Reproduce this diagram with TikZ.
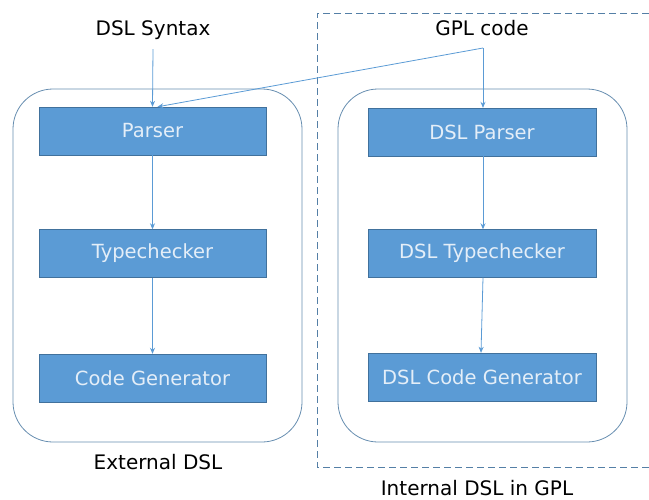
\documentclass[tikz,border=0pt]{standalone}
\usepackage{fontspec}
\setmainfont{DejaVu Sans}
\usetikzlibrary{arrows.meta,positioning}
\definecolor{boxblue}{HTML}{5B9BD5}
\definecolor{edgeblue}{HTML}{41719C}
\definecolor{txtblue}{HTML}{E4EEF8}

\tikzset{
  stage/.style={draw=edgeblue, fill=boxblue, text=txtblue, minimum width=227pt,
    minimum height=48pt, inner sep=0pt, font=\fontsize{19.5}{21}\selectfont},
  label/.style={font=\fontsize{20}{22}\selectfont, text=black},
  flow/.style={boxblue, line width=0.8pt, -{Stealth[length=6pt,width=5pt]}},
  frame/.style={edgeblue!80, line width=0.8pt, rounded corners=40pt}
}

\begin{document}
\begin{tikzpicture}[x=1pt, y=-1pt]
\useasboundingbox (0,0) rectangle (649,499);
% outer frames
\draw [frame] (13,89) rectangle (302,442);
\draw [frame] (338,89) rectangle (627,442);
\draw [edgeblue!90, line width=0.9pt, dash pattern=on 7pt off 4pt] (649,13) -- (317,13) -- (317,467) -- (649,467);
% external DSL
\node [stage] (parser) at (152.5,131) {Parser};
\node [stage] (typecheck) at (152.5,253.5) {Typechecker};
\node [stage] (codegen) at (152.5,378) {Code Generator};
% internal DSL
\node [stage, minimum width=228pt] (dslparser) at (482,132) {DSL Parser};
\node [stage, minimum width=228pt] (dsltypecheck) at (482,253.5) {DSL Typechecker};
\node [stage, minimum width=228pt] (dslcodegen) at (482,377) {DSL Code Generator};
% labels
\node [label] (syntax) at (153,30) {DSL Syntax};
\node [label] (gpl) at (482,28) {GPL code};
\node [label] (ext) at (158,462) {External DSL};
\node [label] (intl) at (477,488) {Internal DSL in GPL};
\coordinate (syntaxout) at (153,49);
\coordinate (gplout) at (483,48);
% arrows
\draw [flow] (syntaxout) -- (parser.north);
\draw [flow] (gplout) -- ([xshift=5pt]parser.north);
\draw [flow] (gplout) -- ([xshift=1pt]dslparser.north);
\draw [flow] (parser) -- (typecheck);
\draw [flow] (typecheck) -- (codegen);
\draw [flow] ([xshift=1pt]dslparser.south) -- ([xshift=1pt]dsltypecheck.north);
\draw [flow] ([xshift=1pt]dsltypecheck.south) -- ([xshift=-1pt]dslcodegen.north);
\end{tikzpicture}
\end{document}
